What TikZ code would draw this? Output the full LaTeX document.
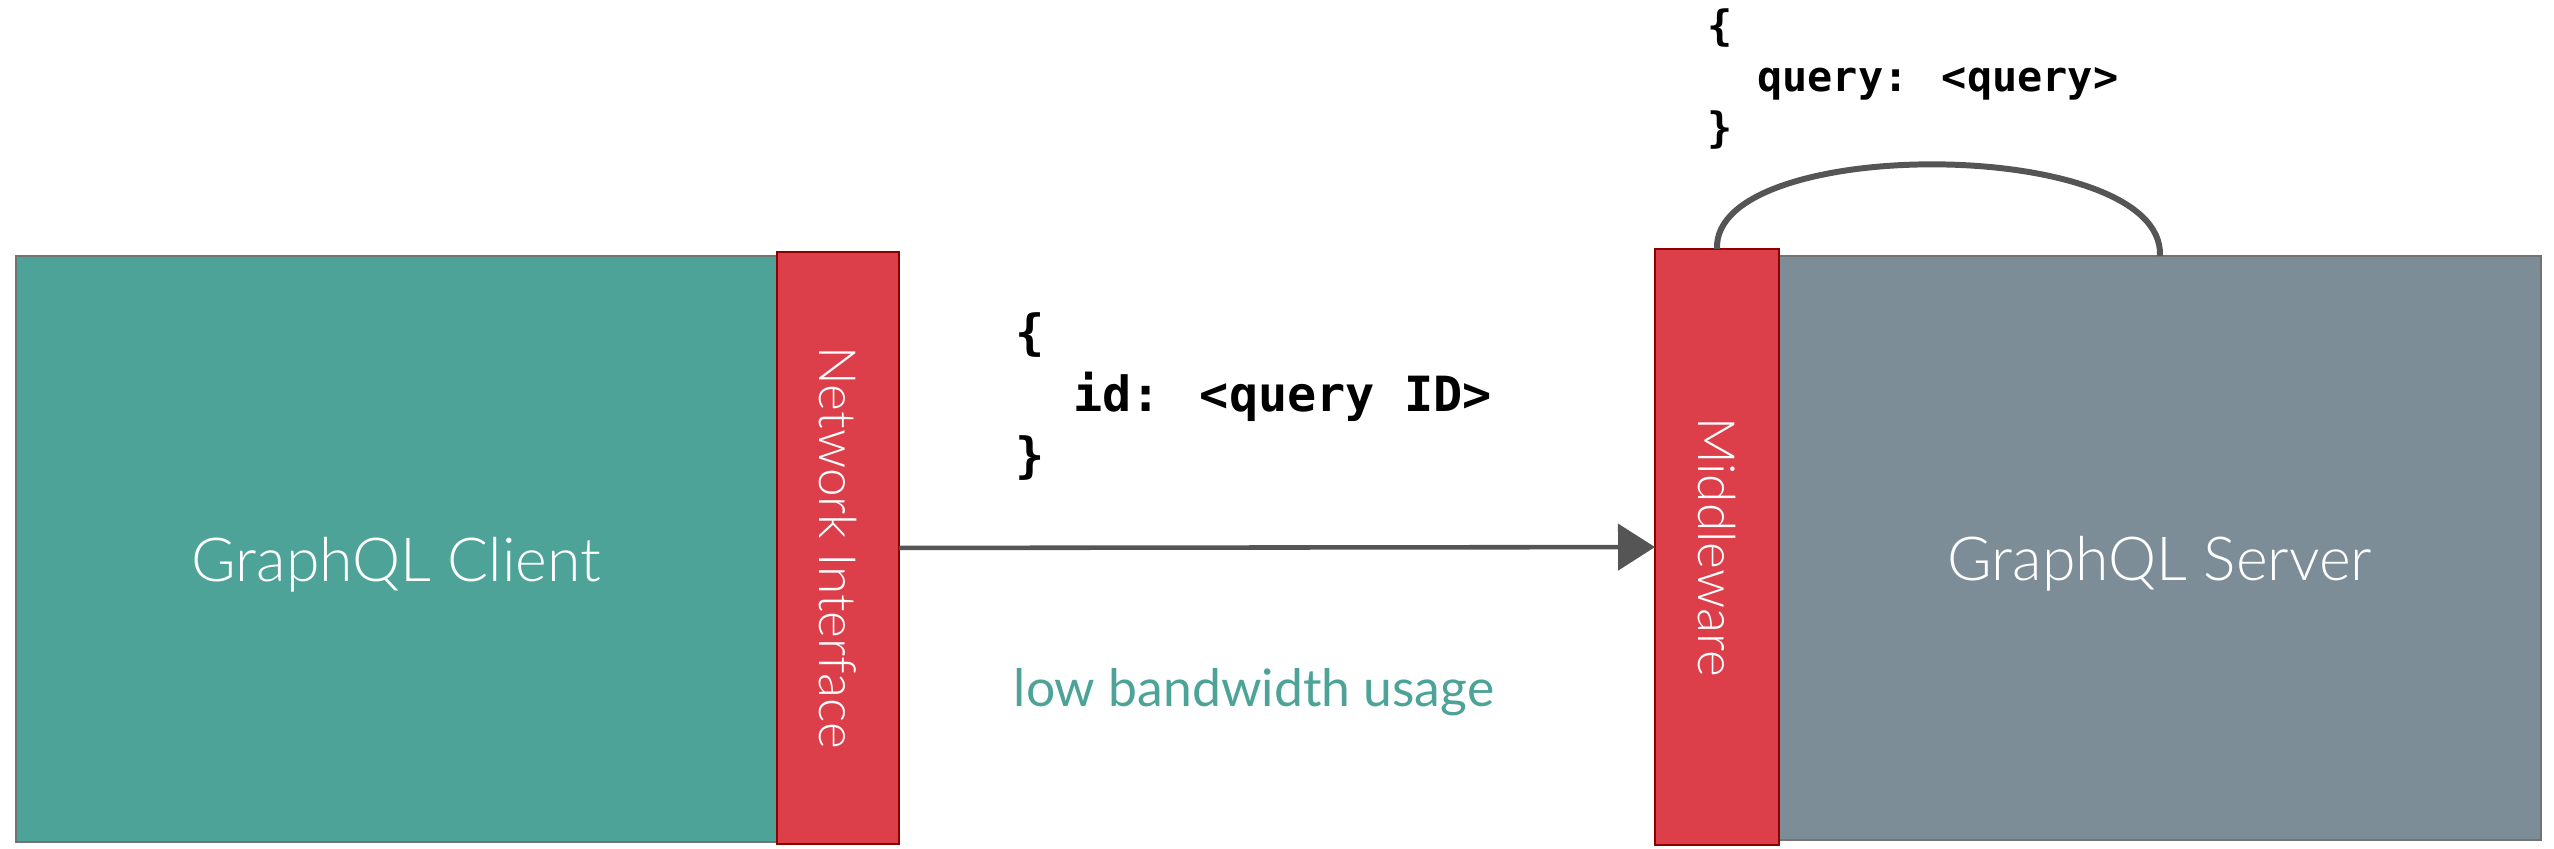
\documentclass[tikz,border=0pt]{standalone}
\usepackage{fontspec}
\setmainfont{Lato}
\newfontfamily\lightfont{Lato Light}
\newfontfamily\codefont{DejaVu Sans Mono}
\usetikzlibrary{arrows.meta,positioning}
\definecolor{clientteal}{HTML}{4DA398}
\definecolor{layerred}{HTML}{DD3F4A}
\definecolor{serverslate}{HTML}{7C8D98}
\definecolor{wiregrey}{HTML}{555555}
\begin{document}
\begin{tikzpicture}[
    every node/.style={inner sep=0pt, outer sep=0pt},
    block/.style={
      draw=black!55, line width=0.5pt, text=white,
      font=\lightfont\fontsize{17.3}{20}\selectfont,
    },
    layer/.style={
      draw=red!55!black, fill=layerred, line width=0.6pt, text=white,
      rotate=-90, font=\lightfont\fontsize{14.6}{17}\selectfont,
    },
    code/.style={align=left, font=\codefont\bfseries},
    wire/.style={draw=wiregrey, line width=1.3pt},
  ]
\useasboundingbox (0,0) rectangle (25.54,8.48);
% --- column x-positions
\def\cA{0.16}
\def\cB{17.79}
% --- row y-positions
\def\rA{5.92}

% Client side
\node[block, fill=clientteal, anchor=north west, minimum width=7.61cm, minimum height=5.86cm,
  label={[text=white, font=\lightfont\fontsize{17.3}{20}\selectfont, yshift=-1.6mm]center:GraphQL Client}]
  (client) at (\cA, \rA) {};
\node[layer, minimum width=5.92cm, minimum height=1.22cm] (ni) at (8.38, 3.00) {Network Interface};

% Server side
\node[block, fill=serverslate, anchor=north west, minimum width=7.62cm, minimum height=5.84cm,
  label={[text=white, font=\lightfont\fontsize{17.3}{20}\selectfont, yshift=-1.6mm]center:GraphQL Server}]
  (srv) at (\cB, \rA) {};
\node[layer, minimum width=5.96cm, minimum height=1.24cm] (mw) at (17.17, 3.01) {Middleware};

% Request with the query id
\draw[wire, -{Triangle[length=3.7mm, width=4.6mm]}] (ni) -- (mw);
\node[code, anchor=north west, font=\codefont\bfseries\fontsize{13.8}{17.4}\selectfont] (idmsg) at (10.15, 5.35) {%
  \{\\
  \phantom{xx}id: <query ID>\\
  \}%
};
\node[text=clientteal, font=\fontsize{14.7}{17}\selectfont] (bw) at (12.54, 1.56) {low bandwidth usage};

% Middleware swaps the id for the full query
\draw[wire, line width=1.7pt] (mw.west) .. controls +(-0.05,1.15) and +(0.05,1.2) .. (srv.north);
\node[code, anchor=north west, font=\codefont\bfseries\fontsize{11.9}{14.5}\selectfont] (querymsg) at (17.07, 8.39) {%
  \{\\
  \phantom{xx}query: <query>\\
  \}%
};
\end{tikzpicture}
\end{document}
